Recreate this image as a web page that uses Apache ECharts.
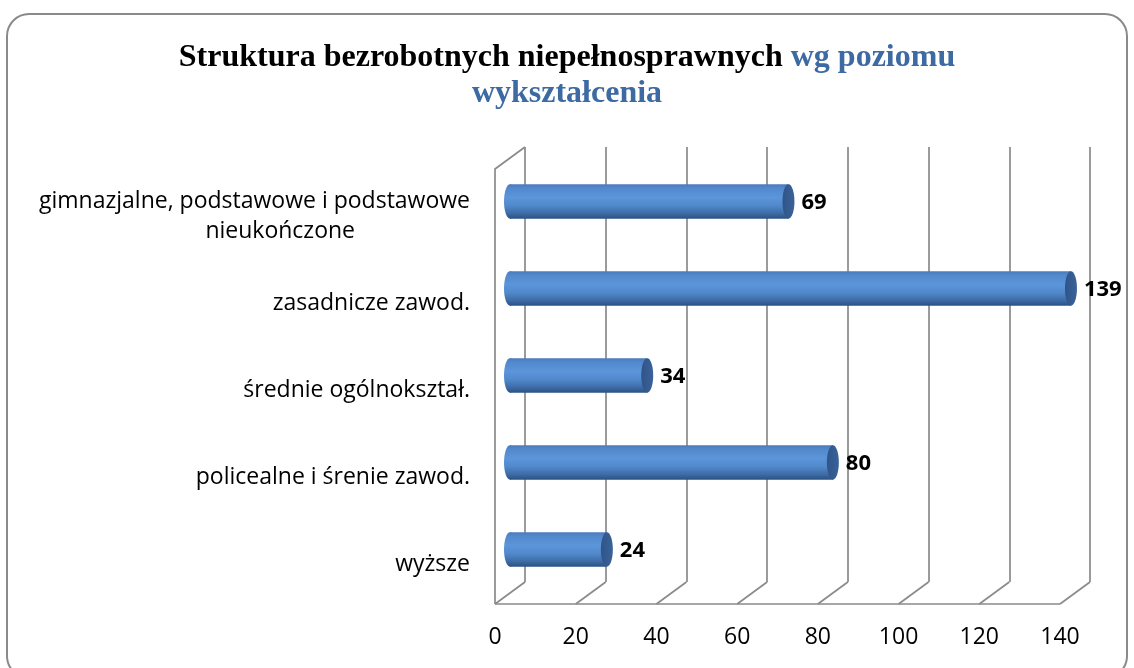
<!DOCTYPE html>
<html>
<head>
<meta charset="utf-8">
<script src="https://cdn.jsdelivr.net/npm/echarts@6/dist/echarts.min.js"></script>
<style>html,body{margin:0;padding:0;background:#fff;}#c{width:1134px;height:668px;}</style>
</head>
<body>
<div id="c"></div>
<script>
const categories = ['gimnazjalne, podstawowe i podstawowe\nnieukończone', 'zasadnicze zawod.', 'średnie ogólnokształ.', 'policealne i śrenie zawod.', 'wyższe'];
const values = [69, 139, 34, 80, 24];
const xTicks = [0, 20, 40, 60, 80, 100, 120, 140];
const titleBlack = 'Struktura bezrobotnych niepełnosprawnych ';
const titleBlue1 = 'wg poziomu';
const titleBlue2 = 'wykształcenia';

const DX = -30, DY = 22; // depth offset (back -> front)
const GRID_COLOR = '#8a8a8a';

const chart = echarts.init(document.getElementById('c'), null, {renderer: 'canvas'});

function frameRender(params, api) {
  const cs = params.coordSys;
  const top = cs.y, bottom = cs.y + cs.height;
  const children = [];
  const ls = {stroke: GRID_COLOR, lineWidth: 1.7, fill: null};
  xTicks.forEach(v => {
    const x = api.coord([v, 0])[0];
    children.push({type: 'line', shape: {x1: x, y1: bottom, x2: x + DX, y2: bottom + DY}, style: ls});
  });
  const x0 = api.coord([xTicks[0], 0])[0];
  const xN = api.coord([xTicks[xTicks.length - 1], 0])[0];
  children.push({type: 'line', shape: {x1: x0 + DX, y1: bottom + DY, x2: xN + DX, y2: bottom + DY}, style: ls});
  children.push({type: 'polyline', shape: {points: [[x0 + DX, bottom + DY], [x0 + DX, top + DY], [x0, top]]}, style: ls});
  return {type: 'group', children};
}

function barRender(params, api) {
  const idx = api.value(0);
  const val = api.value(1);
  const p0 = api.coord([0, idx]);
  const p1 = api.coord([val, idx]);
  const band = api.size([0, 1])[1];
  const h = band * 0.395;
  const rx = 6;
  const ox = DX / 2, oy = DY / 2;
  const x0 = p0[0] + ox, x1 = p1[0] + ox, cy = p0[1] + oy;
  const body = new echarts.graphic.LinearGradient(0, 0, 0, 1, [
    {offset: 0, color: '#4a7cbd'},
    {offset: 0.12, color: '#5389cd'},
    {offset: 0.38, color: '#5c95da'},
    {offset: 0.62, color: '#5189cb'},
    {offset: 0.85, color: '#3d6ba5'},
    {offset: 1, color: '#2b5183'}
  ]);
  const cap = new echarts.graphic.LinearGradient(0, 0, 1, 0, [
    {offset: 0, color: '#2f5488'},
    {offset: 1, color: '#3b6399'}
  ]);
  return {
    type: 'group',
    children: [
      {type: 'ellipse', shape: {cx: x0, cy: cy, rx: rx, ry: h / 2}, style: {fill: body}},
      {type: 'rect', shape: {x: x0, y: cy - h / 2, width: Math.max(0, x1 - x0), height: h}, style: {fill: body}},
      {type: 'ellipse', shape: {cx: x1, cy: cy, rx: rx, ry: h / 2}, style: {fill: cap}},
      {type: 'text', style: {text: String(val), x: x1 + rx + 7, y: cy + 1, verticalAlign: 'middle', align: 'left',
        font: 'bold 22px "Open Sans", sans-serif', fill: '#000'}}
    ]
  };
}

const option = {
  backgroundColor: '#ffffff',
  animation: false,
  title: {
    left: 'center',
    top: 35,
    text: '{a|' + titleBlack + '}{b|' + titleBlue1 + '}\n{b|' + titleBlue2 + '}',
    textStyle: {
      rich: {
        a: {fontFamily: '"Liberation Serif", serif', fontWeight: 'bold', fontSize: 32, color: '#000', lineHeight: 36},
        b: {fontFamily: '"Liberation Serif", serif', fontWeight: 'bold', fontSize: 32, color: '#3d6aa2', lineHeight: 36}
      }
    }
  },
  graphic: [{
    type: 'rect', silent: true, z: -10,
    shape: {x: 7, y: 14, width: 1120, height: 664, r: 22},
    style: {fill: '#ffffff', stroke: '#8a8a8a', lineWidth: 2}
  }],
  grid: [
    {left: 525, right: 44, top: 147, bottom: 86},
    {left: 495, right: 74, top: 169, bottom: 64},
    {left: 495, right: 74, top: 173, bottom: 60}
  ],
  xAxis: [
    {gridIndex: 0, type: 'value', min: 0, max: 140, interval: 20,
     axisLine: {show: false}, axisTick: {show: false}, axisLabel: {show: false},
     splitLine: {show: true, lineStyle: {color: GRID_COLOR, width: 1.7}}},
    {gridIndex: 1, type: 'value', min: 0, max: 140, interval: 20,
     axisLine: {show: false}, axisTick: {show: false}, splitLine: {show: false},
     axisLabel: {show: true, margin: 22, color: '#000', fontSize: 23, fontFamily: '"Open Sans", sans-serif'}},
    {gridIndex: 2, type: 'value', min: 0, max: 140, show: false}
  ],
  yAxis: [
    {gridIndex: 0, type: 'category', data: categories, inverse: true,
     axisLine: {show: false}, axisTick: {show: false}, axisLabel: {show: false}, splitLine: {show: false}},
    {gridIndex: 1, type: 'category', data: categories, inverse: true, show: false},
    {gridIndex: 2, type: 'category', data: categories, inverse: true,
     axisLine: {show: false}, axisTick: {show: false}, splitLine: {show: false},
     axisLabel: {show: true, margin: 25, color: '#000', fontSize: 23, fontFamily: '"Open Sans", sans-serif', lineHeight: 30,
       formatter: function (v) {
         const parts = v.split('\n');
         if (parts.length === 1) return '{a|' + v + '}';
         return '{a|' + parts[0] + '}\n{b|' + parts[1] + '}';
       },
       rich: {
         a: {fontSize: 23, fontFamily: '"Open Sans", sans-serif', color: '#000', lineHeight: 30},
         b: {fontSize: 23, fontFamily: '"Open Sans", sans-serif', color: '#000', lineHeight: 30, padding: [0, 115, 0, 0]}
       }}}
  ],
  series: [
    {type: 'custom', xAxisIndex: 0, yAxisIndex: 0, renderItem: frameRender, data: [[0, 0]], silent: true, z: 1},
    {type: 'custom', xAxisIndex: 0, yAxisIndex: 0, renderItem: barRender, z: 5,
     encode: {x: 1, y: 0},
     data: values.map((v, i) => [i, v])}
  ]
};
chart.setOption(option);
</script>
</body>
</html>
